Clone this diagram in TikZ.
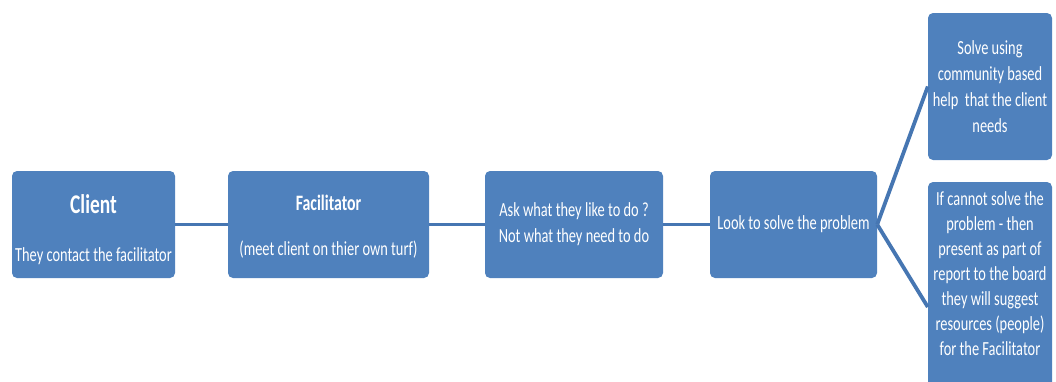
\documentclass[tikz,border=0pt]{standalone}
\usepackage{fontspec}
\setmainfont{Carlito}[FakeStretch=0.72]
\definecolor{boxblue}{RGB}{79,129,189}
\definecolor{lineblue}{RGB}{70,118,178}
\begin{document}
\begin{tikzpicture}[x=1pt,y=-1pt,
  blue box/.style={fill=boxblue,rounded corners=5pt,inner sep=2pt,
    text=white,align=center,font=\fontsize{20}{26}\selectfont},
  link/.style={draw=lineblue,line width=3.8pt}]
\useasboundingbox (0,0) rectangle (1056,381);
\clip (0,0) rectangle (1056,381);
% main row
\node[blue box,minimum width=163,minimum height=107] (client) at (93.5,224.5)
  {{\fontsize{27}{30}\selectfont\bfseries\rule{0pt}{29pt}Client}\\[22pt]They contact the facilitator};
\node[blue box,minimum width=201,minimum height=107] (facil) at (328.5,224.5)
  {{\fontsize{22}{26}\selectfont\bfseries\rule{0pt}{20pt}Facilitator}\\[19pt](meet client on thier own turf)};
\node[blue box,minimum width=178,minimum height=107] (ask) at (574,224.5)
  {Ask what they like to do ?\\Not what they need to do};
\node[blue box,minimum width=167,minimum height=107] (look) at (793.5,224.5)
  {Look to solve the problem};
% two outcomes
\node[blue box,minimum width=124,minimum height=147] (solve) at (990,86.5)
  {Solve using\\community based\\help~ that the client\\needs};
\node[blue box,minimum width=124,minimum height=250] (board) at (990,307) {};
\node[text=white,align=center,font=\fontsize{20}{25}\selectfont] (boardtext) at (990,273.5)
  {If cannot solve the\\problem - then\\present as part of\\report to the board\\they will suggest\\resources (people)\\for the Facilitator};
\draw[link] (client) -- (facil);
\draw[link] (facil) -- (ask);
\draw[link] (ask) -- (look);
\draw[link] (look.east) -- (solve.west);
\draw[link] (look.east) -- (board.west);
\end{tikzpicture}
\end{document}
